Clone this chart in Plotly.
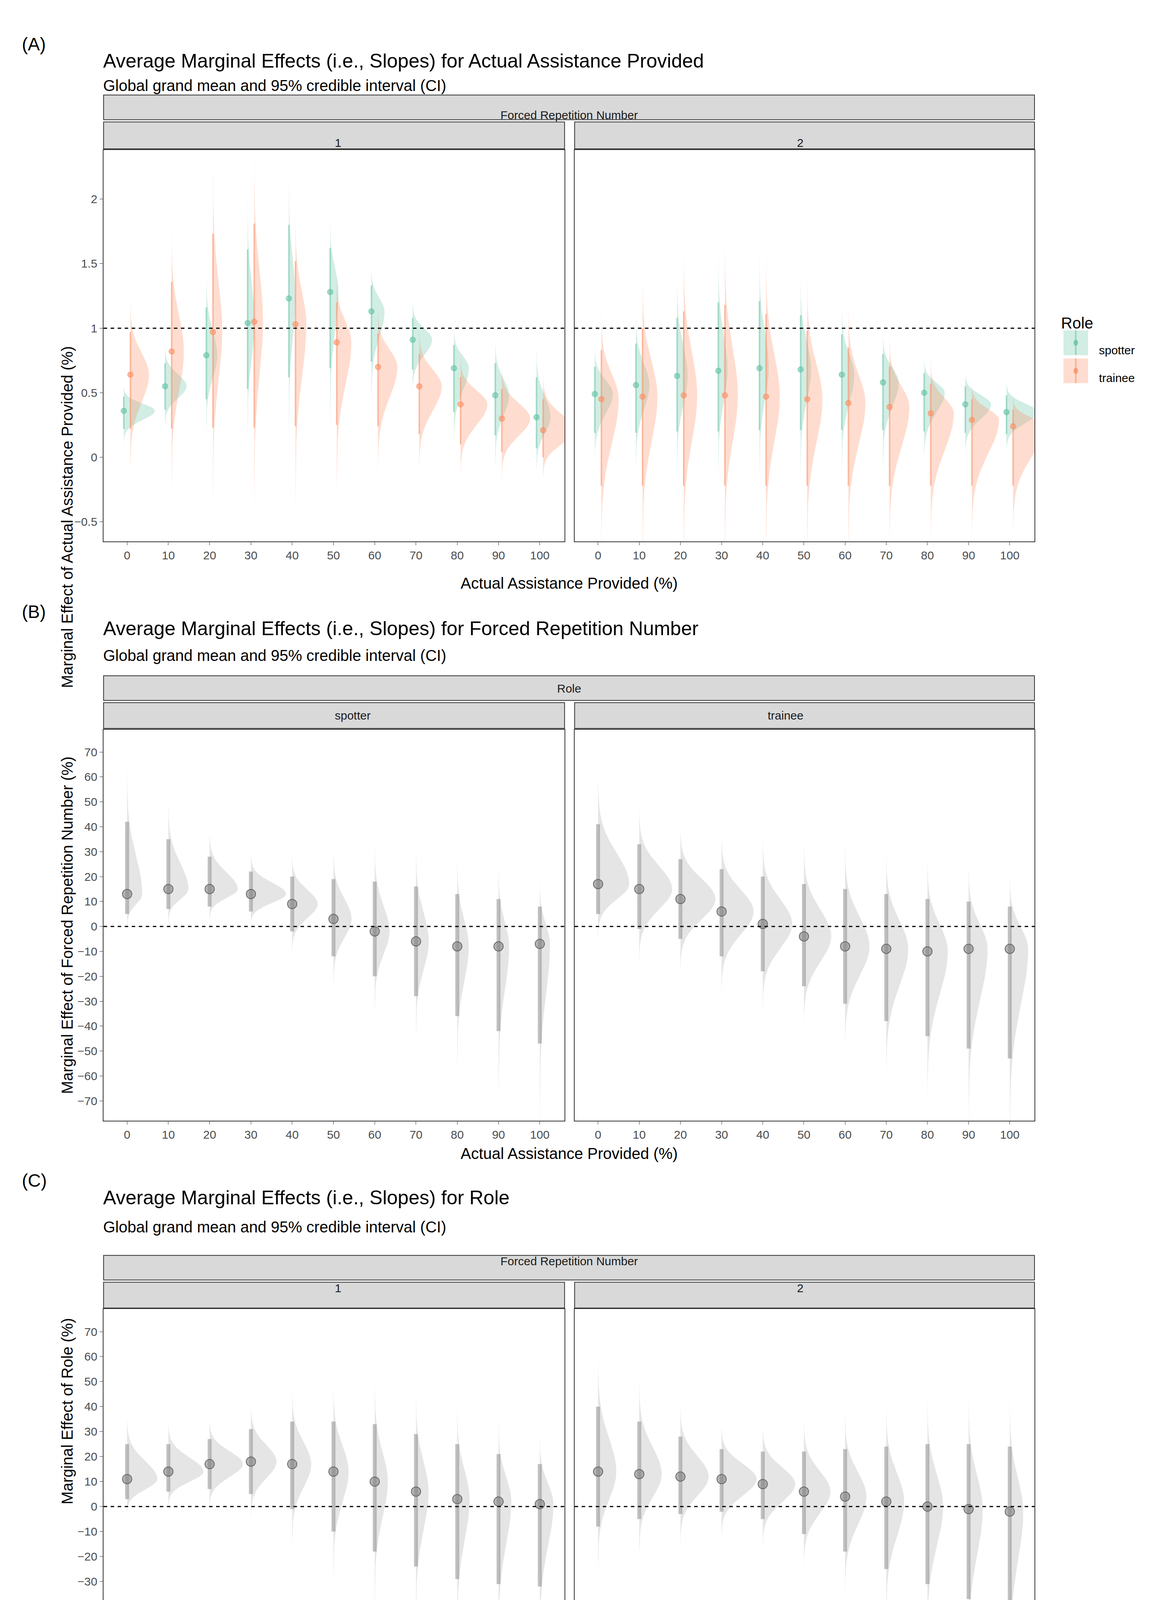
import numpy as np
import plotly.graph_objects as go

# %% Data
assist = [0, 10, 20, 30, 40, 50, 60, 70, 80, 90, 100]

# Panel A: slopes for actual assistance, by forced rep (1, 2) and role
a1_spot_med = [0.36, 0.55, 0.79, 1.04, 1.23, 1.28, 1.13, 0.91, 0.69, 0.48, 0.31]
a1_spot_lo = [0.22, 0.37, 0.45, 0.53, 0.62, 0.69, 0.74, 0.68, 0.35, 0.17, 0.07]
a1_spot_hi = [0.47, 0.73, 1.16, 1.61, 1.80, 1.62, 1.33, 1.08, 0.87, 0.73, 0.62]
a1_tr_med = [0.64, 0.82, 0.97, 1.05, 1.03, 0.89, 0.70, 0.55, 0.41, 0.30, 0.21]
a1_tr_lo = [0.22, 0.22, 0.23, 0.23, 0.24, 0.25, 0.24, 0.18, 0.10, 0.04, 0.00]
a1_tr_hi = [0.97, 1.36, 1.73, 1.81, 1.52, 1.20, 0.96, 0.80, 0.62, 0.53, 0.45]
a2_spot_med = [0.49, 0.56, 0.63, 0.67, 0.69, 0.68, 0.64, 0.58, 0.50, 0.41, 0.35]
a2_spot_lo = [0.19, 0.19, 0.20, 0.20, 0.21, 0.21, 0.21, 0.21, 0.20, 0.19, 0.18]
a2_spot_hi = [0.70, 0.88, 1.08, 1.20, 1.21, 1.10, 0.95, 0.80, 0.65, 0.55, 0.48]
a2_tr_med = [0.45, 0.47, 0.48, 0.48, 0.47, 0.45, 0.42, 0.39, 0.34, 0.29, 0.24]
a2_tr_lo = [-0.22, -0.22, -0.22, -0.22, -0.22, -0.22, -0.22, -0.22, -0.22, -0.22, -0.22]
a2_tr_hi = [0.83, 1.00, 1.13, 1.18, 1.11, 0.98, 0.85, 0.70, 0.57, 0.45, 0.37]

# Panel B: slopes for forced repetition number, by role
b_spot_med = [13, 15, 15, 13, 9, 3, -2, -6, -8, -8, -7]
b_spot_lo = [5, 7, 8, 6, -2, -12, -20, -28, -36, -42, -47]
b_spot_hi = [42, 35, 28, 22, 20, 19, 18, 16, 13, 11, 8]
b_tr_med = [17, 15, 11, 6, 1, -4, -8, -9, -10, -9, -9]
b_tr_lo = [5, -1, -5, -12, -18, -24, -31, -38, -44, -49, -53]
b_tr_hi = [41, 33, 27, 23, 20, 17, 15, 13, 11, 10, 8]

# Panel C: slopes for role, by forced rep
c1_med = [11, 14, 17, 18, 17, 14, 10, 6, 3, 2, 1]
c1_lo = [3, 6, 7, 5, -1, -10, -18, -24, -29, -31, -32]
c1_hi = [25, 25, 27, 31, 34, 34, 33, 29, 25, 21, 17]
c2_med = [14, 13, 12, 11, 9, 6, 4, 2, 0, -1, -2]
c2_lo = [-8, -5, -3, -2, -5, -11, -18, -25, -31, -37, -41]
c2_hi = [40, 34, 28, 23, 22, 22, 23, 24, 25, 25, 24]

SPOT = '#66c2a5'
TRAIN = '#fc8d62'
W, H = 3000, 4500
PX, PY = 1050, 1568  # reference layout measured on a scaled view


def xp(px):
    return px / PX


def yp(py):
    return 1 - py / PY


def sfx(n):
    return '' if n == 1 else str(n)


fig = go.Figure()
fig.update_layout(width=W, height=H, margin=dict(l=0, r=0, t=0, b=0),
                  plot_bgcolor='white', paper_bgcolor='white',
                  font=dict(family='Liberation Sans, Arial', color='#4d4d4d', size=30),
                  showlegend=False)


def rgba(hexc, a):
    h = hexc.lstrip('#')
    return f'rgba({int(h[0:2],16)},{int(h[2:4],16)},{int(h[4:6],16)},{a})'


def add_halfeye(n, meds, los, his, color, offset, max_h, pt_size, lw, alpha_fill, pt_col, pt_line):
    xa, ya = 'x' + sfx(n), 'y' + sfx(n)
    sig = [((m - l) + (h - m)) / 3.92 for m, l, h in zip(meds, los, his)]
    smin = min(sig)
    for x0, m, l, h, s in zip(assist, meds, los, his, sig):
        sl = max((m - l) / 1.96, 1e-6)
        sr = max((h - m) / 1.96, 1e-6)
        yy = np.linspace(m - 3.5 * sl, m + 3.5 * sr, 120)
        z = np.where(yy < m, (yy - m) / sl, (yy - m) / sr)
        dens = np.exp(-0.5 * z ** 2)
        hgt = max_h * smin / s
        xx = x0 + offset + hgt * dens
        fig.add_trace(go.Scatter(
            x=np.concatenate([[x0 + offset], xx, [x0 + offset]]),
            y=np.concatenate([[yy[0]], yy, [yy[-1]]]),
            fill='toself', fillcolor=rgba(color, alpha_fill), mode='lines',
            line=dict(width=0), hoverinfo='skip', xaxis=xa, yaxis=ya))
        fig.add_trace(go.Scatter(x=[x0 + offset, x0 + offset], y=[l, h], mode='lines',
                                 line=dict(color=rgba(color, 0.55) if pt_col is None else 'rgba(150,150,150,0.6)', width=lw),
                                 hoverinfo='skip', xaxis=xa, yaxis=ya))
        fig.add_trace(go.Scatter(x=[x0 + offset], y=[m], mode='markers',
                                 marker=dict(size=pt_size, color=pt_col or rgba(color, 0.6),
                                             line=dict(color=pt_line or rgba(color, 0.6), width=2)),
                                 xaxis=xa, yaxis=ya))


# panel geometry (in reference pixels)
cols = [(90, 503), (512, 924)]
panels = [
    dict(top=131, bot=480, strip_top=82, strip_mid=105, tag='(A)', tag_y=27, title_y=41, sub_y=65,
         title='Average Marginal Effects (i.e., Slopes) for Actual Assistance Provided',
         ytitle='Marginal Effect of Actual Assistance Provided (%)', outer='Forced Repetition Number',
         inner=['1', '2'], yrange=[-0.65, 2.38], dtick=0.5, ref=1),
    dict(top=648, bot=997, strip_top=600, strip_mid=623, tag='(B)', tag_y=543, title_y=558, sub_y=582,
         title='Average Marginal Effects (i.e., Slopes) for Forced Repetition Number',
         ytitle='Marginal Effect of Forced Repetition Number (%)', outer='Role',
         inner=['spotter', 'trainee'], yrange=[-78, 79], dtick=10, ref=0),
    dict(top=1165, bot=1515, strip_top=1117, strip_mid=1140, tag='(C)', tag_y=1060, title_y=1076, sub_y=1100,
         title='Average Marginal Effects (i.e., Slopes) for Role',
         ytitle='Marginal Effect of Role (%)', outer='Forced Repetition Number',
         inner=['1', '2'], yrange=[-78, 79], dtick=10, ref=0),
]

n = 0
for p in panels:
    for j, (c0, c1) in enumerate(cols):
        n += 1
        s = sfx(n)
        fig.update_layout(**{
            f'xaxis{s}': dict(domain=[xp(c0), xp(c1)], range=[-5.7, 106], anchor=f'y{s}',
                              tickvals=assist, ticks='outside', ticklen=8, tickcolor='#333',
                              showline=True, linecolor='#333', mirror=True, linewidth=2,
                              showgrid=False, zeroline=False, tickfont=dict(size=30, color='#4d4d4d')),
            f'yaxis{s}': dict(domain=[yp(p['bot']), yp(p['top'])], range=p['yrange'], anchor=f'x{s}',
                              dtick=p['dtick'], ticks='outside' if j == 0 else '', ticklen=8, tickcolor='#333',
                              showticklabels=(j == 0), showline=True, linecolor='#333', mirror=True,
                              linewidth=2, showgrid=False, zeroline=False,
                              tickfont=dict(size=30, color='#4d4d4d')),
        })
        fig.add_shape(type='line', xref=f'x{s} domain', yref=f'y{s}', x0=0, x1=1,
                      y0=p['ref'], y1=p['ref'], line=dict(color='black', width=3, dash='dash'))
        # inner strip
        fig.add_shape(type='rect', xref='paper', yref='paper', x0=xp(c0), x1=xp(c1),
                      y0=yp(p['top'] - 1), y1=yp(p['strip_mid'] + 1), fillcolor='#d9d9d9',
                      line=dict(color='#333', width=2), layer='below')
        fig.add_annotation(x=(xp(c0) + xp(c1)) / 2, y=(yp(p['top']) + yp(p['strip_mid'])) / 2,
                           xref='paper', yref='paper', text=p['inner'][j], showarrow=False,
                           font=dict(size=30, color='#1a1a1a'))
    # outer strip
    fig.add_shape(type='rect', xref='paper', yref='paper', x0=xp(cols[0][0]), x1=xp(cols[1][1]),
                  y0=yp(p['strip_mid'] - 1), y1=yp(p['strip_top']), fillcolor='#d9d9d9',
                  line=dict(color='#333', width=2), layer='below')
    fig.add_annotation(x=(xp(cols[0][0]) + xp(cols[1][1])) / 2, y=(yp(p['strip_mid']) + yp(p['strip_top'])) / 2,
                       xref='paper', yref='paper', text=p['outer'], showarrow=False,
                       font=dict(size=30, color='#1a1a1a'))
    fig.add_annotation(x=xp(16), y=yp(p['tag_y']), xref='paper', yref='paper', text=p['tag'],
                       showarrow=False, xanchor='left', font=dict(size=46, color='black'))
    fig.add_annotation(x=xp(89), y=yp(p['title_y']), xref='paper', yref='paper', text=p['title'],
                       showarrow=False, xanchor='left', font=dict(size=50, color='black'))
    fig.add_annotation(x=xp(89), y=yp(p['sub_y']), xref='paper', yref='paper',
                       text='Global grand mean and 95% credible interval (CI)',
                       showarrow=False, xanchor='left', font=dict(size=40, color='black'))
    fig.add_annotation(x=xp(507), y=yp(p['bot'] + 29), xref='paper', yref='paper',
                       text='Actual Assistance Provided (%)', showarrow=False,
                       font=dict(size=40, color='black'))
    fig.add_annotation(x=xp(49), y=(yp(p['top']) + yp(p['bot'])) / 2, xref='paper', yref='paper',
                       text=p['ytitle'], showarrow=False, textangle=-90,
                       font=dict(size=40, color='black'))

# Panel A traces
add_halfeye(1, a1_spot_med, a1_spot_lo, a1_spot_hi, SPOT, -0.8, 7.5, 14, 4, 0.3, None, None)
add_halfeye(1, a1_tr_med, a1_tr_lo, a1_tr_hi, TRAIN, 0.8, 7.5, 14, 4, 0.3, None, None)
add_halfeye(2, a2_spot_med, a2_spot_lo, a2_spot_hi, SPOT, -0.8, 7.5, 14, 4, 0.3, None, None)
add_halfeye(2, a2_tr_med, a2_tr_lo, a2_tr_hi, TRAIN, 0.8, 7.5, 14, 4, 0.3, None, None)
# Panels B and C
GRAY = '#999999'
for k, (m, l, h) in zip([3, 4, 5, 6], [(b_spot_med, b_spot_lo, b_spot_hi), (b_tr_med, b_tr_lo, b_tr_hi),
                                       (c1_med, c1_lo, c1_hi), (c2_med, c2_lo, c2_hi)]):
    add_halfeye(k, m, l, h, GRAY, 0, 8.5, 24, 10, 0.25, 'rgba(130,130,130,0.6)', 'rgba(80,80,80,0.8)')

# Legend (drawn manually)
fig.add_annotation(x=xp(947), y=yp(277), xref='paper', yref='paper', text='Role', showarrow=False,
                   xanchor='left', font=dict(size=40, color='black'))
for name, col, yy in [('spotter', SPOT, 303), ('trainee', TRAIN, 328)]:
    fig.add_shape(type='rect', xref='paper', yref='paper', x0=xp(950), x1=xp(972),
                  y0=yp(yy + 11), y1=yp(yy - 11), fillcolor=rgba(col, 0.3), line=dict(width=0))
    fig.add_shape(type='line', xref='paper', yref='paper', x0=xp(961), x1=xp(961),
                  y0=yp(yy + 11), y1=yp(yy - 11), line=dict(color=rgba(col, 0.55), width=4))
    fig.add_shape(type='circle', xref='paper', yref='paper', x0=xp(959), x1=xp(963),
                  y0=yp(yy + 2.7), y1=yp(yy - 2.7), fillcolor=rgba(col, 0.8), line=dict(width=0))
    fig.add_annotation(x=xp(981), y=yp(yy), xref='paper', yref='paper', text=name, showarrow=False,
                       xanchor='left', font=dict(size=30, color='black'))

fig.write_html("out.html")
